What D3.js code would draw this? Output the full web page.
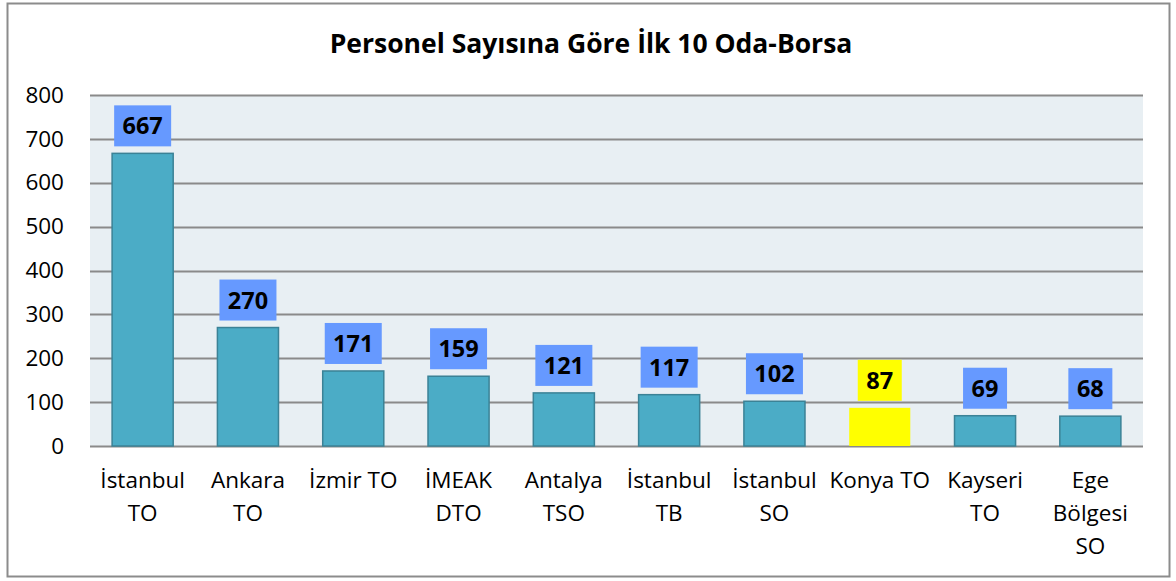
<!DOCTYPE html>
<html>
<head>
<meta charset="utf-8">
<script src="https://cdn.jsdelivr.net/npm/d3@7"></script>
<style>
  body { margin: 0; background: #fff; }
  text { font-family: "Open Sans", "Noto Sans", sans-serif; }
</style>
</head>
<body>
<script>
    var categories = ["İstanbul\nTO", "Ankara\nTO", "İzmir TO", "İMEAK\nDTO", "Antalya\nTSO",
                      "İstanbul\nTB", "İstanbul\nSO", "Konya TO", "Kayseri\nTO", "Ege\nBölgesi\nSO"];
    var values = [667, 270, 171, 159, 121, 117, 102, 87, 69, 68];
    var highlight = "Konya TO";
    var yTicks = [0, 100, 200, 300, 400, 500, 600, 700, 800];
    var title = "Personel Sayısına Göre İlk 10 Oda-Borsa";

    var width = 1176, height = 581;
    var margin = {top: 95, right: 33, bottom: 135, left: 90};

    var svg = d3.select("body").append("svg")
      .attr("width", width)
      .attr("height", height);

    // outer frame
    svg.append("rect")
      .attr("x", 7.5).attr("y", 3.5)
      .attr("width", 1162).attr("height", 573)
      .attr("fill", "#fff")
      .attr("stroke", "#8c8c8c")
      .attr("stroke-width", 2);

    svg.append("text")
      .attr("x", 591).attr("y", 53)
      .attr("text-anchor", "middle")
      .style("font-size", "26.5px")
      .style("font-weight", "bold")
      .text(title);

    var x = d3.scaleBand()
      .domain(categories)
      .range([margin.left, width - margin.right])
      .paddingInner(0.42)
      .paddingOuter(0.21);

    var y = d3.scaleLinear()
      .domain([0, 800])
      .range([height - margin.bottom, margin.top]);

    // plot background
    svg.append("rect")
      .attr("x", margin.left).attr("y", margin.top)
      .attr("width", width - margin.left - margin.right)
      .attr("height", height - margin.top - margin.bottom)
      .attr("fill", "#e8eff3");

    // gridlines
    svg.append("g")
      .selectAll("line")
      .data(yTicks)
      .enter().append("line")
      .attr("x1", margin.left)
      .attr("x2", width - margin.right)
      .attr("y1", function(d) { return Math.round(y(d)) + 0.5; })
      .attr("y2", function(d) { return Math.round(y(d)) + 0.5; })
      .attr("stroke", "#8a8a8a")
      .attr("stroke-width", 2);

    // y axis labels
    var yAxis = svg.append("g")
      .attr("transform", "translate(" + margin.left + ",0)")
      .call(d3.axisLeft(y).tickValues(yTicks).tickSize(0).tickPadding(26));
    yAxis.select(".domain").remove();
    yAxis.selectAll("text")
      .style("font-size", "22.5px")
      .style("font-family", "'Open Sans', sans-serif")
      .attr("fill", "#000");

    //bars
    svg.append("g")
      .selectAll("rect")
      .data(values)
      .enter().append("rect")
      .attr("x", function(d, i) { return x(categories[i]); })
      .attr("y", function(d) { return y(d); })
      .attr("width", x.bandwidth())
      .attr("height", function(d) { return y(0) - y(d); })
      .attr("fill", function(d, i) { return categories[i] === highlight ? "#ffff00" : "#4bacc6"; })
      .attr("stroke", function(d, i) { return categories[i] === highlight ? "none" : "#3b8296"; })
      .attr("stroke-width", 1.5);

    // value labels with boxes
    var lab = svg.append("g")
      .selectAll("g")
      .data(values)
      .enter().append("g")
      .attr("transform", function(d, i) {
        return "translate(" + (x(categories[i]) + x.bandwidth() / 2) + "," + (y(d) - 27.5) + ")";
      });
    lab.append("rect")
      .attr("x", function(d) { return String(d).length > 2 ? -28.5 : -22; })
      .attr("y", -20.5)
      .attr("width", function(d) { return String(d).length > 2 ? 57 : 44; })
      .attr("height", 41)
      .attr("fill", function(d, i) { return categories[i] === highlight ? "#ffff00" : "#6699ff"; });
    lab.append("text")
      .attr("text-anchor", "middle")
      .attr("y", 8.5)
      .style("font-size", "23.5px")
      .style("font-weight", "bold")
      .text(function(d) { return d; });

    // category labels
    var cat = svg.append("g")
      .selectAll("text")
      .data(categories)
      .enter().append("text")
      .attr("text-anchor", "middle")
      .attr("x", function(d) { return x(d) + x.bandwidth() / 2; })
      .attr("y", 488)
      .style("font-size", "22.5px");
    cat.selectAll("tspan")
      .data(function(d) { return d.split("\n"); })
      .enter().append("tspan")
      .attr("x", function() { var p = this.parentNode; return p.getAttribute("x"); })
      .attr("dy", function(d, i) { return i === 0 ? 0 : 33; })
      .text(function(d) { return d; });
</script>
</body>
</html>
